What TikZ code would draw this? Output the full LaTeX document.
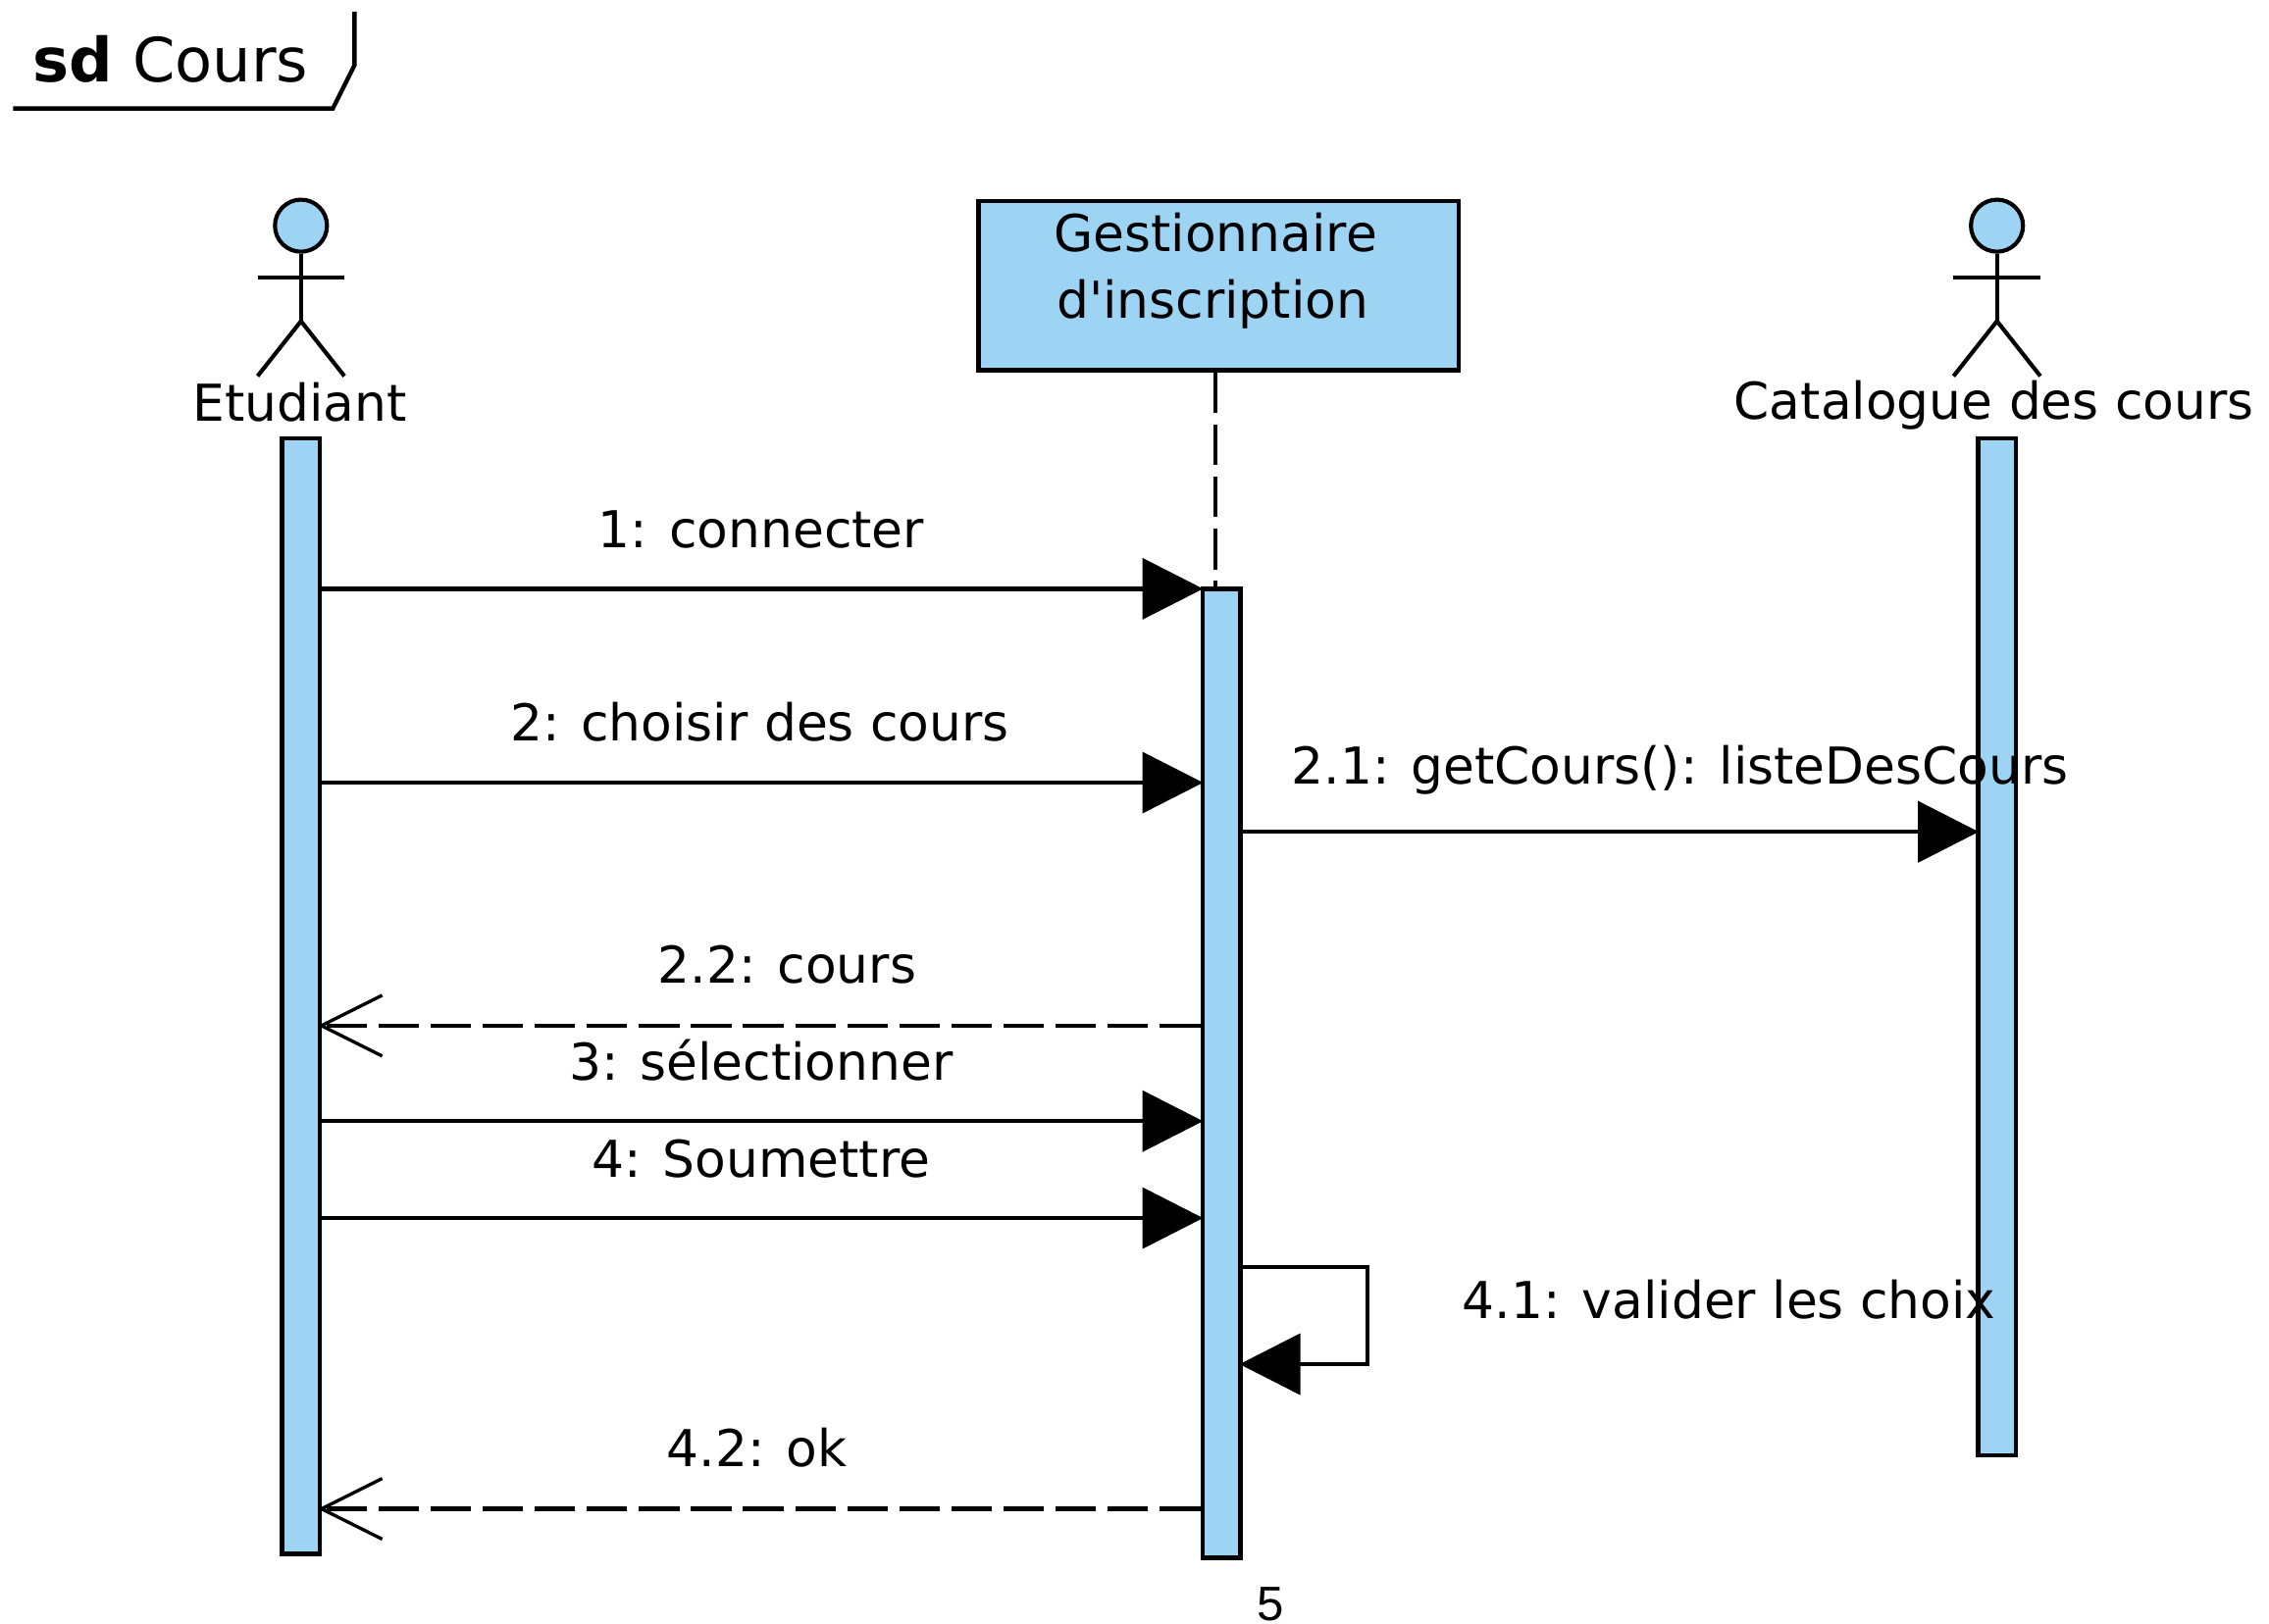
\documentclass[tikz,border=0pt]{standalone}
\usepackage{fontspec}
\setmainfont{DejaVu Sans}[Ligatures=TeXOff]
\newfontfamily\pagefont{Liberation Sans}
\usetikzlibrary{arrows.meta}
\definecolor{lifeblue}{RGB}{157,212,243}
\tikzset{
    lbl/.style={inner sep=0pt, font=\fontsize{20}{24}\selectfont},
    activation/.style={draw, fill=lifeblue, line width=1.8pt, minimum width=0.52cm, inner sep=0pt},
    actorline/.style={line width=1.6pt},
    syncmsg/.style={line width=1.7pt, shorten >=-0.04cm, -{Triangle[length=0.84cm, width=0.84cm]}},
    replymsg/.style={line width=1.7pt, shorten >=-0.06cm, dash pattern=on 0.56cm off 0.16cm, -{Straight Barb[length=0.84cm, width=0.84cm, line width=1.3pt]}}
}
\begin{document}
\begin{tikzpicture}[x=0.02cm, y=-0.02cm]
    \useasboundingbox (0,0) rectangle (1568,1122.6);

    % Frame tab
    \coordinate (tabL) at (9,75);
    \coordinate (tabB) at (230,75);
    \coordinate (tabR) at (245,45);
    \coordinate (tabT) at (245,8);
    \draw[line width=1.7pt] (tabL) -- (tabB) -- (tabR) -- (tabT);
    \node[lbl, font=\fontsize{24}{28}\selectfont] (title) at (118,41) {\textbf{sd} Cours};

    % Actors
    \foreach \x/\nm in {208/E, 1380/C} {
        \node[circle, draw, fill=lifeblue, line width=1.6pt, minimum size=0.72cm, inner sep=0pt] (head\nm) at (\x,156) {};
        \coordinate (hip\nm) at (\x,222);
        \draw[actorline] (head\nm.south) -- (hip\nm);
        \draw[actorline] (\x-30,192) -- (\x+30,192);
        \draw[actorline] (\x-30,260) -- (hip\nm) -- (\x+30,260);
    }

    % Gestionnaire box
    \node[draw, fill=lifeblue, line width=1.8pt, minimum width=6.64cm, minimum height=2.34cm, inner sep=0pt] (gest) at (842,197.5) {};

    % Activation bars
    \node[activation, minimum height=15.42cm] (barE) at (208,688.5) {};
    \node[activation, minimum height=13.4cm] (barG) at (844,742) {};
    \node[activation, minimum height=14.06cm] (barC) at (1380,654.5) {};

    % Lifeline
    \draw[line width=1.5pt, dash pattern=on 0.56cm off 0.16cm] (gest.south -| 840,0) -- (barG.north -| 840,0);

    % Message heights
    \coordinate (m1) at (0,407);
    \coordinate (m2) at (0,541);
    \coordinate (m21) at (0,575);
    \coordinate (m22) at (0,709);
    \coordinate (m3) at (0,775);
    \coordinate (m4) at (0,842);
    \coordinate (m41a) at (945,876);
    \coordinate (m41b) at (945,943);
    \coordinate (m42) at (0,1043);

    % Messages
    \foreach \m in {m1,m2,m3,m4} {
        \draw[syncmsg] (barE.east |- \m) -- (barG.west |- \m);
    }
    \draw[syncmsg] (barG.east |- m21) -- (barC.west |- m21);
    \draw[replymsg] (barG.west |- m22) -- (barE.east |- m22);
    \draw[replymsg] (barG.west |- m42) -- (barE.east |- m42);
    \draw[syncmsg] (barG.east |- m41a) -- (m41a) -- (m41b) -- (barG.east |- m41b);

    % Labels
    \node[lbl] (lblE) at (207,278) {Etudiant};
    \node[lbl] (lblC) at (1378,280) {Catalogue des cours};
    \node[lbl] (lblG1) at (840,161) {Gestionnaire};
    \node[lbl] (lblG2) at (838,210) {d'inscription};
    \node[lbl] (lbl1) at (526,366) {1: connecter};
    \node[lbl] (lbl2) at (525,499) {2: choisir des cours};
    \node[lbl] (lbl21) at (1161,532) {2.1: getCours(): listeDesCours};
    \node[lbl] (lbl22) at (544,667) {2.2: cours};
    \node[lbl] (lbl3) at (526,733) {3: sélectionner};
    \node[lbl] (lbl4) at (526,801) {4: Soumettre};
    \node[lbl] (lbl41) at (1195,898) {4.1: valider les choix};
    \node[lbl] (lbl42) at (523,1001) {4.2: ok};

    % Page number
    \node[inner sep=0pt, font=\pagefont\fontsize{19}{22}\selectfont] (pagenum) at (878,1109) {5};
\end{tikzpicture}
\end{document}
